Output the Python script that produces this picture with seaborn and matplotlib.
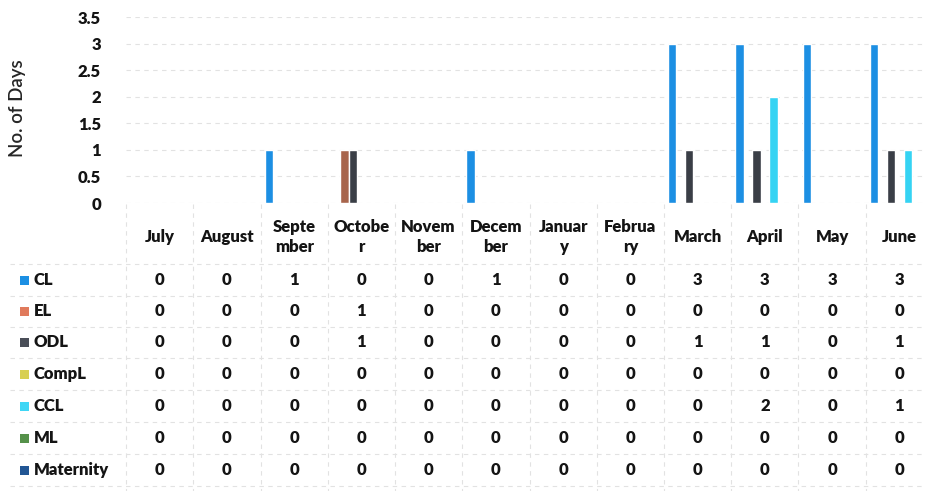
import matplotlib
matplotlib.use("Agg")
import matplotlib.pyplot as plt
import matplotlib.transforms as mtransforms
from matplotlib.patches import Rectangle
import seaborn as sns
import pandas as pd

months = ["July", "August", "September", "October", "November", "December",
          "January", "February", "March", "April", "May", "June"]
month_labels = ["July", "August", "Septe\nmber", "Octobe\nr", "Novem\nber", "Decem\nber",
                "Januar\ny", "Februa\nry", "March", "April", "May", "June"]

series_names = ["CL", "EL", "ODL", "CompL", "CCL", "ML", "Maternity"]
cl = [0, 0, 1, 0, 0, 1, 0, 0, 3, 3, 3, 3]
el = [0, 0, 0, 1, 0, 0, 0, 0, 0, 0, 0, 0]
odl = [0, 0, 0, 1, 0, 0, 0, 0, 1, 1, 0, 1]
compl = [0, 0, 0, 0, 0, 0, 0, 0, 0, 0, 0, 0]
ccl = [0, 0, 0, 0, 0, 0, 0, 0, 0, 2, 0, 1]
ml = [0, 0, 0, 0, 0, 0, 0, 0, 0, 0, 0, 0]
maternity = [0, 0, 0, 0, 0, 0, 0, 0, 0, 0, 0, 0]
series_values = [cl, el, odl, compl, ccl, ml, maternity]

bar_colors = ["#1c8fe3", "#a8654c", "#3a3e46", "#c9c24a", "#35d3f3", "#4f8a42", "#1f4f8c"]
key_colors = ["#1c8fe3", "#e07a5c", "#4a4e58", "#d8cf52", "#3fd6f5", "#55914a", "#225694"]

ytick_vals = [0, 0.5, 1, 1.5, 2, 2.5, 3, 3.5]
ytick_labels = ["0", "0.5", "1", "1.5", "2", "2.5", "3", "3.5"]

rows = []
for name, vals in zip(series_names, series_values):
    for m, v in zip(months, vals):
        rows.append({"Month": m, "Leave": name, "Days": v})
df = pd.DataFrame(rows)

sns.set_theme(style="white")
plt.rcParams["font.family"] = ["Lato", "DejaVu Sans"]

W, H = 925, 491
TXT = "#141414"
FS = 12
WT = "heavy"
fig = plt.figure(figsize=(W / 100, H / 100), dpi=100)
ax_left, ax_right, ax_top, ax_bottom = 126, 933, 17, 203
ax = fig.add_axes([ax_left / W, 1 - ax_bottom / H, (ax_right - ax_left) / W, (ax_bottom - ax_top) / H])

sns.barplot(data=df, x="Month", y="Days", hue="Leave", order=months, hue_order=series_names,
            palette=bar_colors, width=0.88, saturation=1, legend=False, ax=ax)

ax.set_xlim(-0.5, 11.5)
ax.set_ylim(0, 3.5)
ax.set_yticks(ytick_vals)
ax.set_yticklabels(ytick_labels, fontsize=FS, fontweight=WT, color=TXT)
ax.tick_params(axis="y", length=0, pad=18)
ax.set_xticks([])
ax.set_xlabel("")
ax.set_ylabel("")
for sp in ax.spines.values():
    sp.set_visible(False)
for y in ytick_vals:
    ax.axhline(y, color="#e2e2e2", lw=0.8, ls=(0, (4, 4)), zorder=0)

fy = lambda px: 1 - px / H
fig.text(18 / W, fy(108), "No. of Days", rotation=90, ha="center", va="center",
         fontsize=13.5, color="#262626", fontweight="semibold")

# Data table beneath the plot
trans = mtransforms.blended_transform_factory(ax.transData, fig.transFigure)

for i, lab in enumerate(month_labels):
    ax.text(i, fy(237), lab, transform=trans, ha="center", va="center", fontsize=FS,
            fontweight=WT, color=TXT, linespacing=1.3, clip_on=False)

row_y = [280, 311, 342, 374, 406, 438, 470]
for name, vals, col, yy in zip(series_names, series_values, key_colors, row_y):
    fig.patches.append(Rectangle((20 / W, fy(yy + 4.5)), 9 / W, 9 / H, transform=fig.transFigure,
                                 facecolor=col, edgecolor="none"))
    fig.text(34 / W, fy(yy), name, ha="left", va="center", fontsize=FS,
             fontweight=WT, color=TXT)
    for i, v in enumerate(vals):
        ax.text(i, fy(yy), str(v), transform=trans, ha="center", va="center", fontsize=FS,
                fontweight=WT, color=TXT, clip_on=False)

grid_kw = dict(color="#e2e2e2", lw=0.8, ls=(0, (4, 4)))
for x in [i - 0.5 for i in range(13)]:
    ax.plot([x, x], [fy(204), fy(491)], transform=trans, clip_on=False, **grid_kw)
for yy in [264, 296, 327, 358, 390, 422, 454, 486]:
    fig.add_artist(plt.Line2D([10 / W, 1], [fy(yy), fy(yy)], transform=fig.transFigure, **grid_kw))

fig.savefig("out.png", dpi=100, facecolor="white")
